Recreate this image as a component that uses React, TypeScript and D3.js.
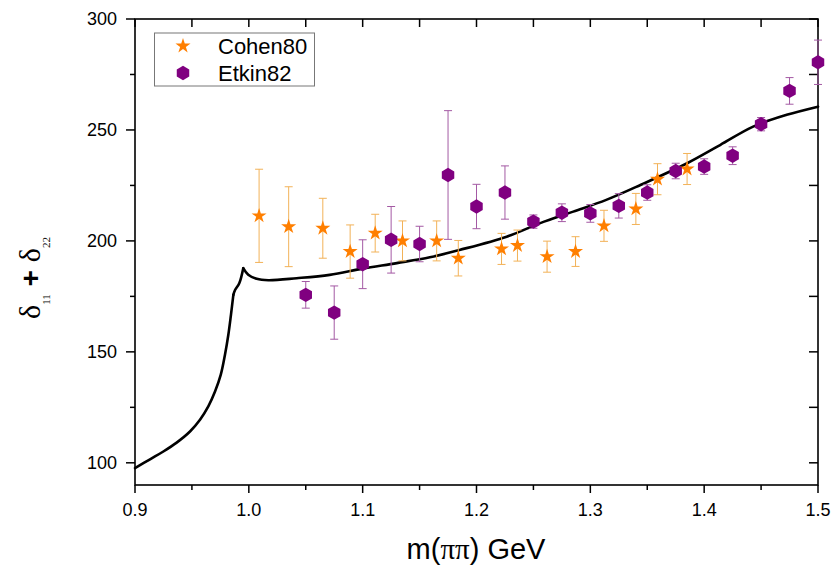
import React from "react";
import * as d3 from "d3";

// Cohen80 phase-shift sum measurements
const cohenMass = [1.009, 1.035, 1.065, 1.089, 1.111, 1.135, 1.165, 1.184, 1.222, 1.236, 1.262, 1.287, 1.312, 1.340, 1.359, 1.385];
const cohenDelta = [211.3, 206.4, 205.7, 195.2, 203.5, 200.0, 200.0, 192.2, 196.4, 197.9, 192.9, 195.2, 206.8, 214.4, 227.8, 232.4];
const cohenErr = [21, 18, 13.5, 12, 8.5, 9, 9, 8, 7, 7, 7, 6.7, 7, 7, 7, 7];

// Etkin82 phase-shift sum measurements
const etkinMass = [1.050, 1.075, 1.100, 1.125, 1.150, 1.175, 1.200, 1.225, 1.250, 1.275, 1.300, 1.325, 1.350, 1.375, 1.400, 1.425, 1.450, 1.475, 1.500];
const etkinDelta = [175.7, 167.7, 189.5, 200.5, 198.6, 229.7, 215.5, 221.8, 208.7, 212.7, 212.4, 215.8, 221.8, 231.5, 233.5, 238.4, 252.6, 267.6, 280.5];
const etkinErr = [6, 12, 11, 15, 8, 29, 10, 12, 3, 4, 4, 5.5, 3.5, 3.5, 3.5, 4, 3, 6, 10];

// Model curve, below and above the cusp near the K-Kbar threshold
const curveMassLow = [0.9, 0.9132, 0.9249, 0.9366, 0.9483, 0.9571, 0.9644, 0.9703, 0.9753, 0.979, 0.982, 0.9843, 0.9864];
const curveDeltaLow = [97.6, 101.6, 105.1, 109.1, 114.1, 119.4, 125.4, 132.1, 139.6, 148.6, 157.7, 166.7, 175.7];
const curveMassKink = [0.9864, 0.9879, 0.9916, 0.9951];
const curveDeltaKink = [175.7, 177.9, 180.9, 187.7];
const curveMassHigh = [0.9951, 0.9995, 1.0069, 1.0171, 1.042, 1.071, 1.1, 1.13, 1.159, 1.185, 1.2265, 1.256, 1.285, 1.314, 1.344, 1.385, 1.414, 1.443, 1.4725, 1.5];
const curveDeltaHigh = [187.7, 184.7, 182.9, 182.3, 183.2, 184.7, 187.5, 190, 192.6, 195.9, 201.9, 208, 213.2, 218.5, 225.2, 235, 243.2, 251.5, 256.8, 260.5];

const xMajor = [0.9, 1.0, 1.1, 1.2, 1.3, 1.4, 1.5];
const xMinor = [0.95, 1.05, 1.15, 1.25, 1.35, 1.45];
const yMajor = [100, 150, 200, 250, 300];
const yMinor = [125, 175, 225, 275];

const legendNames = ["Cohen80", "Etkin82"];

const W = 834;
const H = 566;
const M = { left: 135, right: 818, top: 19, bottom: 485 };

const ORANGE = "#ff7f00";
const ORANGE_ERR = "#f2b258";
const PURPLE = "#800080";
const PURPLE_ERR = "#a45aa4";
const SANS = "'Liberation Sans', Arial, sans-serif";
const SERIF = "'Liberation Serif', 'Times New Roman', serif";

const x = d3.scaleLinear().domain([0.9, 1.5]).range([M.left, M.right]);
const y = d3.scaleLinear().domain([90, 300]).range([M.bottom, M.top]);

const starPath = d3.symbol(d3.symbolStar, 70)() as string;

function hexPath(r: number): string {
  const pts: [number, number][] = [];
  for (let i = 0; i < 6; i++) {
    const a = Math.PI / 2 + (i * Math.PI) / 3;
    pts.push([r * Math.cos(a), r * Math.sin(a)]);
  }
  return "M" + pts.map((p) => p.join(",")).join("L") + "Z";
}
const hex = hexPath(7.2);

function ErrorBar({ cx, v, e, color }: { cx: number; v: number; e: number; color: string }) {
  const px = x(cx);
  const top = y(v + e);
  const bot = y(v - e);
  const cap = 4;
  return (
    <g stroke={color} strokeWidth={1} fill="none">
      <line x1={px} x2={px} y1={top} y2={bot} />
      <line x1={px - cap} x2={px + cap} y1={top} y2={top} />
      <line x1={px - cap} x2={px + cap} y1={bot} y2={bot} />
    </g>
  );
}

function makeLine(mass: number[]) {
  return d3
    .line<number>()
    .x((_, i) => x(mass[i]))
    .y((d) => y(d))
    .curve(d3.curveCatmullRom.alpha(0.5));
}

export default function App() {
  const lineLow = makeLine(curveMassLow);
  const lineKink = makeLine(curveMassKink);
  const lineHigh = makeLine(curveMassHigh);

  return (
    <svg width={W} height={H} style={{ position: "absolute", left: 0, top: 0, background: "#fff" }}>
      <rect width={W} height={H} fill="#fff" />

      {/* frame */}
      <rect x={M.left} y={M.top} width={M.right - M.left} height={M.bottom - M.top} fill="none" stroke="#000" strokeWidth={1.6} />

      {/* bottom ticks (outward) and top ticks (inward) */}
      {xMajor.map((t) => (
        <g key={"xM" + t}>
          <line x1={x(t)} x2={x(t)} y1={M.bottom} y2={M.bottom + 8} stroke="#000" strokeWidth={1.5} />
          <line x1={x(t)} x2={x(t)} y1={M.top} y2={M.top + 8} stroke="#000" strokeWidth={1.5} />
          <text x={x(t)} y={516} textAnchor="middle" fontFamily={SANS} fontSize={18} fill="#000">
            {t.toFixed(1)}
          </text>
        </g>
      ))}
      {xMinor.map((t) => (
        <g key={"xm" + t}>
          <line x1={x(t)} x2={x(t)} y1={M.bottom} y2={M.bottom + 5} stroke="#000" strokeWidth={1.5} />
          <line x1={x(t)} x2={x(t)} y1={M.top} y2={M.top + 8} stroke="#000" strokeWidth={1.5} />
        </g>
      ))}

      {/* left ticks (outward) and right ticks (inward) */}
      {yMajor.map((t) => (
        <g key={"yM" + t}>
          <line x1={M.left - 9} x2={M.left} y1={y(t)} y2={y(t)} stroke="#000" strokeWidth={1.5} />
          <line x1={M.right - 9} x2={M.right} y1={y(t)} y2={y(t)} stroke="#000" strokeWidth={1.5} />
          <text x={117} y={y(t)} dy="0.36em" textAnchor="end" fontFamily={SANS} fontSize={18} fill="#000">
            {t}
          </text>
        </g>
      ))}
      {yMinor.map((t) => (
        <g key={"ym" + t}>
          <line x1={M.left - 5} x2={M.left} y1={y(t)} y2={y(t)} stroke="#000" strokeWidth={1.5} />
          <line x1={M.right - 9} x2={M.right} y1={y(t)} y2={y(t)} stroke="#000" strokeWidth={1.5} />
        </g>
      ))}

      {/* model curve */}
      <g fill="none" stroke="#000" strokeWidth={2.6} strokeLinejoin="round" strokeLinecap="round">
        <path d={lineLow(curveDeltaLow) as string} />
        <path d={lineKink(curveDeltaKink) as string} />
        <path d={lineHigh(curveDeltaHigh) as string} />
      </g>

      {/* error bars */}
      {cohenMass.map((m, i) => (
        <ErrorBar key={"ce" + i} cx={m} v={cohenDelta[i]} e={cohenErr[i]} color={ORANGE_ERR} />
      ))}
      {etkinMass.map((m, i) => (
        <ErrorBar key={"ee" + i} cx={m} v={etkinDelta[i]} e={etkinErr[i]} color={PURPLE_ERR} />
      ))}

      {/* markers */}
      {cohenMass.map((m, i) => (
        <path key={"cs" + i} d={starPath} transform={`translate(${x(m)},${y(cohenDelta[i])})`} fill={ORANGE} />
      ))}
      {etkinMass.map((m, i) => (
        <path key={"es" + i} d={hex} transform={`translate(${x(m)},${y(etkinDelta[i])})`} fill={PURPLE} />
      ))}

      {/* legend */}
      <rect x={154.5} y={33} width={160} height={53} fill="#fff" stroke="#777" strokeWidth={1} />
      <path d={starPath} transform="translate(183,46)" fill={ORANGE} />
      <path d={hex} transform="translate(183,73)" fill={PURPLE} />
      <text x={218} y={54} fontFamily={SANS} fontSize={22} fill="#000">{legendNames[0]}</text>
      <text x={218} y={81} fontFamily={SANS} fontSize={22} fill="#000">{legendNames[1]}</text>

      {/* axis titles */}
      <text x={476} y={559} textAnchor="middle" fontFamily={SANS} fontSize={29} fill="#000">
        m(<tspan fontFamily={SERIF}>ππ</tspan>) GeV
      </text>
      <text transform="translate(40,278) rotate(-90)" textAnchor="middle" fill="#000">
        <tspan fontFamily={SERIF} fontSize={30}>δ</tspan>
        <tspan fontFamily={SERIF} fontSize={11} dy={10}>11</tspan>
        <tspan fontFamily={SANS} fontSize={28} fontWeight="bold" dy={-10}> + </tspan>
        <tspan fontFamily={SERIF} fontSize={30}>δ</tspan>
        <tspan fontFamily={SERIF} fontSize={11} dy={10}>22</tspan>
      </text>
    </svg>
  );
}
